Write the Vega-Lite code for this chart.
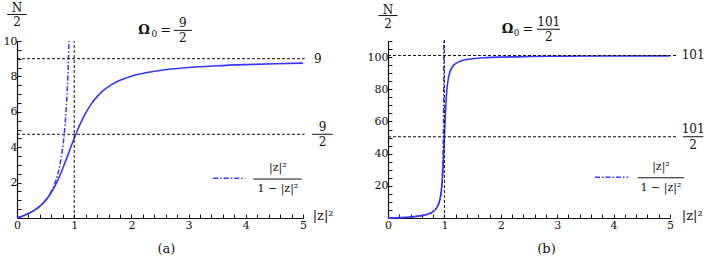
{
  "$schema": "https://vega.github.io/schema/vega-lite/v6.json",
  "padding": {"left": 3, "top": 2, "right": 0, "bottom": 0},
  "bounds": "flush",
  "spacing": 85,
  "config": {
    "font": "DejaVu Serif",
    "view": {"stroke": null},
    "axis": {"grid": false, "domainColor": "#111", "domainWidth": 1.2, "tickColor": "#111", "tickWidth": 1, "ticks": true, "labelFont": "DejaVu Serif", "labelFontSize": 11, "labelColor": "#111", "labelFlush": false, "titleFont": "DejaVu Serif", "titleFontSize": 13, "titleFontWeight": "normal", "titleColor": "#111"},
    "text": {"font": "DejaVu Serif", "fontSize": 12, "align": "center", "baseline": "middle", "color": "#111"}
  },
  "datasets": {
    "ca": [
      {"x": 0, "y": 0}, {"x": 0.1, "y": 0.1111}, {"x": 0.2, "y": 0.25}, {"x": 0.3, "y": 0.4285}, {"x": 0.4, "y": 0.6656}, {"x": 0.5, "y": 0.9902}, {"x": 0.6, "y": 1.4392}, {"x": 0.7, "y": 2.0426}, {"x": 0.75, "y": 2.4033}, {"x": 0.8, "y": 2.7971}, {"x": 0.85, "y": 3.2153}, {"x": 0.9, "y": 3.6466}, {"x": 0.95, "y": 4.0787}, {"x": 1, "y": 4.5}, {"x": 1.05, "y": 4.9025}, {"x": 1.1, "y": 5.2734}, {"x": 1.2, "y": 5.9262}, {"x": 1.3, "y": 6.4488}, {"x": 1.4, "y": 6.8581}, {"x": 1.5, "y": 7.1765}, {"x": 1.6, "y": 7.4251}, {"x": 1.7, "y": 7.6212}, {"x": 1.8, "y": 7.7781}, {"x": 2, "y": 8.0098}, {"x": 2.25, "y": 8.203}, {"x": 2.5, "y": 8.3344}, {"x": 2.75, "y": 8.429}, {"x": 3, "y": 8.5002}, {"x": 3.5, "y": 8.6}, {"x": 4, "y": 8.6667}, {"x": 4.5, "y": 8.7143}, {"x": 5, "y": 8.75}
    ],
    "da": [
      {"x": 0, "y": 0}, {"x": 0.2, "y": 0.25}, {"x": 0.4, "y": 0.6667}, {"x": 0.5, "y": 1}, {"x": 0.6, "y": 1.5}, {"x": 0.65, "y": 1.8571}, {"x": 0.7, "y": 2.3333}, {"x": 0.75, "y": 3}, {"x": 0.8, "y": 4}, {"x": 0.83, "y": 4.8824}, {"x": 0.85, "y": 5.6667}, {"x": 0.87, "y": 6.6923}, {"x": 0.89, "y": 8.0909}, {"x": 0.9, "y": 9}, {"x": 0.90909, "y": 10}
    ],
    "cb": [
      {"x": 0, "y": 0}, {"x": 0.2, "y": 0.25}, {"x": 0.4, "y": 0.6667}, {"x": 0.5, "y": 1}, {"x": 0.6, "y": 1.5}, {"x": 0.7, "y": 2.3333}, {"x": 0.8, "y": 4}, {"x": 0.85, "y": 5.6667}, {"x": 0.9, "y": 8.998}, {"x": 0.93, "y": 13.224}, {"x": 0.95, "y": 18.452}, {"x": 0.96, "y": 22.389}, {"x": 0.97, "y": 27.555}, {"x": 0.975, "y": 30.66}, {"x": 0.98, "y": 34.115}, {"x": 0.985, "y": 37.89}, {"x": 0.99, "y": 41.933}, {"x": 0.995, "y": 46.18}, {"x": 1, "y": 50.5}, {"x": 1.005, "y": 54.81}, {"x": 1.01, "y": 58.985}, {"x": 1.015, "y": 62.933}, {"x": 1.02, "y": 66.597}, {"x": 1.03, "y": 72.927}, {"x": 1.04, "y": 77.902}, {"x": 1.05, "y": 81.708}, {"x": 1.07, "y": 86.817}, {"x": 1.1, "y": 91.006}, {"x": 1.15, "y": 94.333}, {"x": 1.2, "y": 96}, {"x": 1.3, "y": 97.667}, {"x": 1.5, "y": 99}, {"x": 1.75, "y": 99.667}, {"x": 2, "y": 100}, {"x": 2.5, "y": 100.333}, {"x": 3, "y": 100.5}, {"x": 4, "y": 100.667}, {"x": 5, "y": 100.75}
    ],
    "db": [
      {"x": 0, "y": 0}, {"x": 0.5, "y": 1}, {"x": 0.7, "y": 2.3333}, {"x": 0.8, "y": 4}, {"x": 0.9, "y": 9}, {"x": 0.95, "y": 19}, {"x": 0.97, "y": 32.333}, {"x": 0.98, "y": 49}, {"x": 0.985, "y": 65.667}, {"x": 0.99, "y": 99}, {"x": 0.99099, "y": 110}
    ]
  },
  "hconcat": [
    {
      "width": 286,
      "height": 177,
      "layer": [
        {
          "data": {"name": "da"},
          "mark": {"type": "line", "stroke": "#3636f5", "strokeWidth": 1.5, "strokeDash": [5, 2, 1.5, 2], "clip": false, "interpolate": "monotone"},
          "encoding": {
            "x": {"field": "x", "type": "quantitative", "title": "(a)", "scale": {"domain": [0, 5], "nice": false, "zero": false},
              "axis": {"values": [0, 0.2, 0.4, 0.6, 0.8, 1, 1.2, 1.4, 1.6, 1.8, 2, 2.2, 2.4, 2.6, 2.8, 3, 3.2, 3.4, 3.6, 3.8, 4, 4.2, 4.4, 4.6, 4.8, 5],
                "tickCount": 200,
                "labelExpr": "datum.value % 1 === 0 ? '' + datum.value : ''",
                "labelOverlap": false,
                "ticks": true, "tickColor": "#111", "tickWidth": 1, "tickOpacity": 1,
                "tickSize": -4,
                "encode": {"ticks": {"update": {"y2": {"signal": "datum.value % 1 === 0 ? -4 : -2.5"}}}},
                "labelPadding": 5, "titlePadding": 12, "titleX": 149}},
            "y": {"field": "y", "type": "quantitative", "title": null, "scale": {"domain": [0, 10], "nice": false, "zero": false},
              "axis": {"values": [0, 0.5, 1, 1.5, 2, 2.5, 3, 3.5, 4, 4.5, 5, 5.5, 6, 6.5, 7, 7.5, 8, 8.5, 9, 9.5, 10],
                "tickCount": 200,
                "labelExpr": "datum.value > 0 && datum.value % 2 === 0 ? '' + datum.value : ''",
                "labelOverlap": false,
                "ticks": true, "tickColor": "#111", "tickWidth": 1, "tickOpacity": 1,
                "tickSize": -4,
                "encode": {"ticks": {"update": {"x2": {"signal": "datum.value % 2 === 0 ? 4 : 2.5"}}}},
                "labelPadding": 4}}
          }
        },
        {
          "data": {"name": "ca"},
          "mark": {"type": "line", "stroke": "#3636f5", "strokeWidth": 1.6, "clip": false, "interpolate": "monotone"},
          "encoding": {
            "x": {"field": "x", "type": "quantitative", "title": "(a)"},
            "y": {"field": "y", "type": "quantitative", "title": null}
          }
        },
        {"data": {"values": [{}]}, "mark": {"type": "rule", "color": "#111", "strokeWidth": 1, "strokeDash": [3, 2]},
          "encoding": {"x": {"datum": 0}, "x2": {"datum": 5.03}, "y": {"datum": 9}}},
        {"data": {"values": [{}]}, "mark": {"type": "rule", "color": "#111", "strokeWidth": 1, "strokeDash": [3, 2]},
          "encoding": {"x": {"datum": 0}, "x2": {"datum": 5.03}, "y": {"datum": 4.73}}},
        {"data": {"values": [{}]}, "mark": {"type": "rule", "color": "#111", "strokeWidth": 1, "strokeDash": [3, 2]},
          "encoding": {"x": {"datum": 1}, "y": {"datum": 0}, "y2": {"datum": 10}}},
        {"data": {"values": [{}]}, "mark": {"type": "rule", "color": "#3636f5", "strokeWidth": 1.5, "strokeDash": [5, 2, 1.5, 2]},
          "encoding": {"x": {"datum": 3.43}, "x2": {"datum": 3.99}, "y": {"datum": 2.25}}},
        {"data": {"values": [{}]}, "mark": {"type": "rule", "color": "#111", "strokeWidth": 1},
          "encoding": {"x": {"datum": 4.13}, "x2": {"datum": 4.98}, "y": {"datum": 2.2}}},
        {"data": {"values": [{}]}, "mark": {"type": "text", "text": "|z|²", "fontSize": 11},
          "encoding": {"x": {"datum": 4.56}, "y": {"datum": 2.84}}},
        {"data": {"values": [{}]}, "mark": {"type": "text", "text": "1 − |z|²", "fontSize": 11},
          "encoding": {"x": {"datum": 4.56}, "y": {"datum": 1.62}}},
        {"data": {"values": [{}]}, "mark": {"type": "text", "text": "9"},
          "encoding": {"x": {"datum": 5.26}, "y": {"datum": 9}}},
        {"data": {"values": [{}]}, "mark": {"type": "rule", "color": "#111", "strokeWidth": 1},
          "encoding": {"x": {"datum": 5.16}, "x2": {"datum": 5.52}, "y": {"datum": 4.73}}},
        {"data": {"values": [{}]}, "mark": {"type": "text", "text": "9"},
          "encoding": {"x": {"datum": 5.34}, "y": {"datum": 5.13}}},
        {"data": {"values": [{}]}, "mark": {"type": "text", "text": "2"},
          "encoding": {"x": {"datum": 5.34}, "y": {"datum": 4.3}}},
        {"data": {"values": [{}]}, "mark": {"type": "text", "text": "|z|²", "fontSize": 13, "align": "left"},
          "encoding": {"x": {"datum": 5.17}, "y": {"datum": 0.1}}},
        {"data": {"values": [{}]}, "mark": {"type": "text", "text": "N", "fontSize": 12},
          "encoding": {"x": {"datum": 0}, "y": {"datum": 11.85}}},
        {"data": {"values": [{}]}, "mark": {"type": "rule", "color": "#111", "strokeWidth": 1},
          "encoding": {"x": {"datum": -0.17}, "x2": {"datum": 0.17}, "y": {"datum": 11.5}}},
        {"data": {"values": [{}]}, "mark": {"type": "text", "text": "2", "fontSize": 12},
          "encoding": {"x": {"datum": 0}, "y": {"datum": 11.06}}},
        {"data": {"values": [{}]}, "mark": {"type": "text", "text": "Ω", "fontSize": 13, "fontWeight": "bold"},
          "encoding": {"x": {"datum": 2.22}, "y": {"datum": 10.6}}},
        {"data": {"values": [{}]}, "mark": {"type": "text", "text": "0", "fontSize": 9},
          "encoding": {"x": {"datum": 2.4}, "y": {"datum": 10.4}}},
        {"data": {"values": [{}]}, "mark": {"type": "text", "text": "=", "fontSize": 13},
          "encoding": {"x": {"datum": 2.6}, "y": {"datum": 10.6}}},
        {"data": {"values": [{}]}, "mark": {"type": "rule", "color": "#111", "strokeWidth": 1},
          "encoding": {"x": {"datum": 2.74}, "x2": {"datum": 3.06}, "y": {"datum": 10.6}}},
        {"data": {"values": [{}]}, "mark": {"type": "text", "text": "9"},
          "encoding": {"x": {"datum": 2.9}, "y": {"datum": 11.03}}},
        {"data": {"values": [{}]}, "mark": {"type": "text", "text": "2"},
          "encoding": {"x": {"datum": 2.9}, "y": {"datum": 10.16}}}
      ]
    },
    {
      "width": 282,
      "height": 177,
      "layer": [
        {
          "data": {"name": "db"},
          "mark": {"type": "line", "stroke": "#3636f5", "strokeWidth": 1.5, "strokeDash": [5, 2, 1.5, 2], "clip": false, "interpolate": "monotone"},
          "encoding": {
            "x": {"field": "x", "type": "quantitative", "title": "(b)", "scale": {"domain": [0, 5], "nice": false, "zero": false},
              "axis": {"values": [0, 0.2, 0.4, 0.6, 0.8, 1, 1.2, 1.4, 1.6, 1.8, 2, 2.2, 2.4, 2.6, 2.8, 3, 3.2, 3.4, 3.6, 3.8, 4, 4.2, 4.4, 4.6, 4.8, 5],
                "tickCount": 200,
                "labelExpr": "datum.value % 1 === 0 ? '' + datum.value : ''",
                "labelOverlap": false,
                "ticks": true, "tickColor": "#111", "tickWidth": 1, "tickOpacity": 1,
                "tickSize": -4,
                "encode": {"ticks": {"update": {"y2": {"signal": "datum.value % 1 === 0 ? -4 : -2.5"}}}},
                "labelPadding": 5, "titlePadding": 12, "titleX": 158}},
            "y": {"field": "y", "type": "quantitative", "title": null, "scale": {"domain": [0, 110], "nice": false, "zero": false},
              "axis": {"values": [0, 5, 10, 15, 20, 25, 30, 35, 40, 45, 50, 55, 60, 65, 70, 75, 80, 85, 90, 95, 100, 105, 110],
                "tickCount": 200,
                "labelExpr": "datum.value > 0 && datum.value % 20 === 0 ? '' + datum.value : ''",
                "labelOverlap": false,
                "ticks": true, "tickColor": "#111", "tickWidth": 1, "tickOpacity": 1,
                "tickSize": -4,
                "encode": {"ticks": {"update": {"x2": {"signal": "datum.value % 20 === 0 ? 4 : 2.5"}}}},
                "labelPadding": 4}}
          }
        },
        {
          "data": {"name": "cb"},
          "mark": {"type": "line", "stroke": "#3636f5", "strokeWidth": 1.6, "clip": false, "interpolate": "monotone"},
          "encoding": {
            "x": {"field": "x", "type": "quantitative", "title": "(b)"},
            "y": {"field": "y", "type": "quantitative", "title": null}
          }
        },
        {"data": {"values": [{}]}, "mark": {"type": "rule", "color": "#111", "strokeWidth": 1, "strokeDash": [3, 2]},
          "encoding": {"x": {"datum": 0}, "x2": {"datum": 5.12}, "y": {"datum": 101}}},
        {"data": {"values": [{}]}, "mark": {"type": "rule", "color": "#111", "strokeWidth": 1, "strokeDash": [3, 2]},
          "encoding": {"x": {"datum": 0}, "x2": {"datum": 5.12}, "y": {"datum": 50.5}}},
        {"data": {"values": [{}]}, "mark": {"type": "rule", "color": "#111", "strokeWidth": 1, "strokeDash": [3, 2]},
          "encoding": {"x": {"datum": 1}, "y": {"datum": 0}, "y2": {"datum": 111}}},
        {"data": {"values": [{}]}, "mark": {"type": "rule", "color": "#3636f5", "strokeWidth": 1.5, "strokeDash": [5, 2, 1.5, 2]},
          "encoding": {"x": {"datum": 3.67}, "x2": {"datum": 4.26}, "y": {"datum": 25.4}}},
        {"data": {"values": [{}]}, "mark": {"type": "rule", "color": "#111", "strokeWidth": 1},
          "encoding": {"x": {"datum": 4.43}, "x2": {"datum": 5.25}, "y": {"datum": 25}}},
        {"data": {"values": [{}]}, "mark": {"type": "text", "text": "|z|²", "fontSize": 11},
          "encoding": {"x": {"datum": 4.84}, "y": {"datum": 31.6}}},
        {"data": {"values": [{}]}, "mark": {"type": "text", "text": "1 − |z|²", "fontSize": 11},
          "encoding": {"x": {"datum": 4.84}, "y": {"datum": 18.4}}},
        {"data": {"values": [{}]}, "mark": {"type": "text", "text": "101"},
          "encoding": {"x": {"datum": 5.41}, "y": {"datum": 101}}},
        {"data": {"values": [{}]}, "mark": {"type": "rule", "color": "#111", "strokeWidth": 1},
          "encoding": {"x": {"datum": 5.23}, "x2": {"datum": 5.59}, "y": {"datum": 50.5}}},
        {"data": {"values": [{}]}, "mark": {"type": "text", "text": "101"},
          "encoding": {"x": {"datum": 5.41}, "y": {"datum": 55.2}}},
        {"data": {"values": [{}]}, "mark": {"type": "text", "text": "2"},
          "encoding": {"x": {"datum": 5.41}, "y": {"datum": 45.2}}},
        {"data": {"values": [{}]}, "mark": {"type": "text", "text": "|z|²", "fontSize": 13, "align": "left"},
          "encoding": {"x": {"datum": 5.21}, "y": {"datum": 1}}},
        {"data": {"values": [{}]}, "mark": {"type": "text", "text": "N", "fontSize": 12},
          "encoding": {"x": {"datum": 0}, "y": {"datum": 129.5}}},
        {"data": {"values": [{}]}, "mark": {"type": "rule", "color": "#111", "strokeWidth": 1},
          "encoding": {"x": {"datum": -0.17}, "x2": {"datum": 0.17}, "y": {"datum": 125.8}}},
        {"data": {"values": [{}]}, "mark": {"type": "text", "text": "2", "fontSize": 12},
          "encoding": {"x": {"datum": 0}, "y": {"datum": 120.8}}},
        {"data": {"values": [{}]}, "mark": {"type": "text", "text": "Ω", "fontSize": 13, "fontWeight": "bold"},
          "encoding": {"x": {"datum": 2.12}, "y": {"datum": 117.2}}},
        {"data": {"values": [{}]}, "mark": {"type": "text", "text": "0", "fontSize": 9},
          "encoding": {"x": {"datum": 2.28}, "y": {"datum": 115}}},
        {"data": {"values": [{}]}, "mark": {"type": "text", "text": "=", "fontSize": 13},
          "encoding": {"x": {"datum": 2.48}, "y": {"datum": 117.2}}},
        {"data": {"values": [{}]}, "mark": {"type": "rule", "color": "#111", "strokeWidth": 1},
          "encoding": {"x": {"datum": 2.64}, "x2": {"datum": 3.05}, "y": {"datum": 117.3}}},
        {"data": {"values": [{}]}, "mark": {"type": "text", "text": "101"},
          "encoding": {"x": {"datum": 2.85}, "y": {"datum": 121.6}}},
        {"data": {"values": [{}]}, "mark": {"type": "text", "text": "2"},
          "encoding": {"x": {"datum": 2.85}, "y": {"datum": 112.6}}}
      ]
    }
  ]
}
